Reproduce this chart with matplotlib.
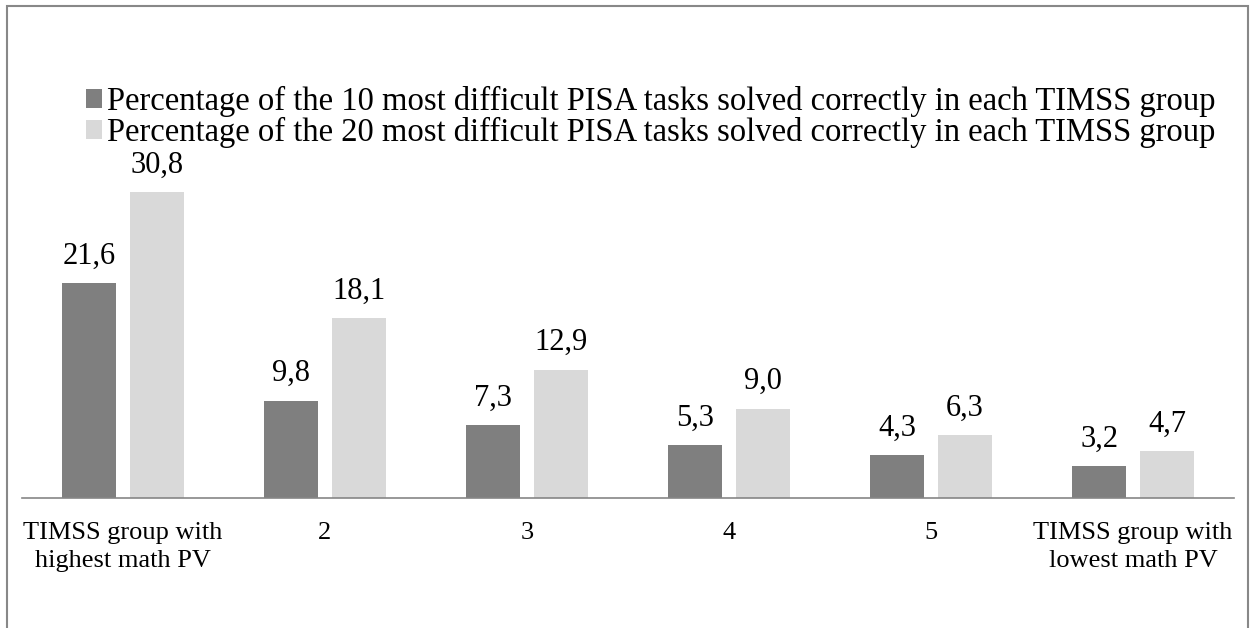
import numpy as np
import matplotlib.pyplot as plt
from matplotlib.patches import Rectangle

categories = ["TIMSS group with\nhighest math PV", "2", "3", "4", "5", "TIMSS group with\nlowest math PV"]
top10 = [21.6, 9.8, 7.3, 5.3, 4.3, 3.2]
top20 = [30.8, 18.1, 12.9, 9.0, 6.3, 4.7]
labels = ["Percentage of the 10 most difficult PISA tasks solved correctly in each TIMSS group",
          "Percentage of the 20 most difficult PISA tasks solved correctly in each TIMSS group"]

plt.rcParams['font.family'] = ['Liberation Serif', 'DejaVu Serif']

fig = plt.figure(figsize=(12.56, 6.28), dpi=100)
ax = fig.add_axes([0.0175, 0.207, 0.965, 0.554])

x = np.arange(len(categories))
w = 0.267
off = 0.168
b1 = ax.bar(x - off, top10, w, color="#7f7f7f", label=labels[0])
b2 = ax.bar(x + off, top20, w, color="#d9d9d9", label=labels[1])

for bars, vals in [(b1, top10), (b2, top20)]:
    for r, v in zip(bars, vals):
        ax.annotate(f"{v:.1f}".replace(".", ","), (r.get_x() + r.get_width() / 2, v),
                    xytext=(0, 9), textcoords="offset points", ha="center", va="bottom",
                    fontsize=22)

ax.set_xlim(-0.5, len(categories) - 0.5)
ax.set_ylim(0, 35)
ax.set_xticks(x)
ax.set_xticklabels(categories, fontsize=19, linespacing=1.35)
ax.tick_params(axis="x", length=0, pad=17)
ax.set_yticks([])
for s in ["top", "right", "left"]:
    ax.spines[s].set_visible(False)
ax.spines["bottom"].set_color("#868686")
ax.spines["bottom"].set_linewidth(1.2)

leg = fig.legend(loc="upper left", bbox_to_anchor=(0.058, 0.884), frameon=False,
                 fontsize=23.5, handlelength=0.5, handleheight=0.5, handletextpad=0.15,
                 labelspacing=0.0, borderaxespad=0)

fig.add_artist(Rectangle((7 / 1256, -0.1), 1241 / 1256, 1.1 - 6 / 628,
                         transform=fig.transFigure, fill=False, edgecolor="#888888",
                         linewidth=1.5, clip_on=False))

fig.savefig("out.png", dpi=100)
